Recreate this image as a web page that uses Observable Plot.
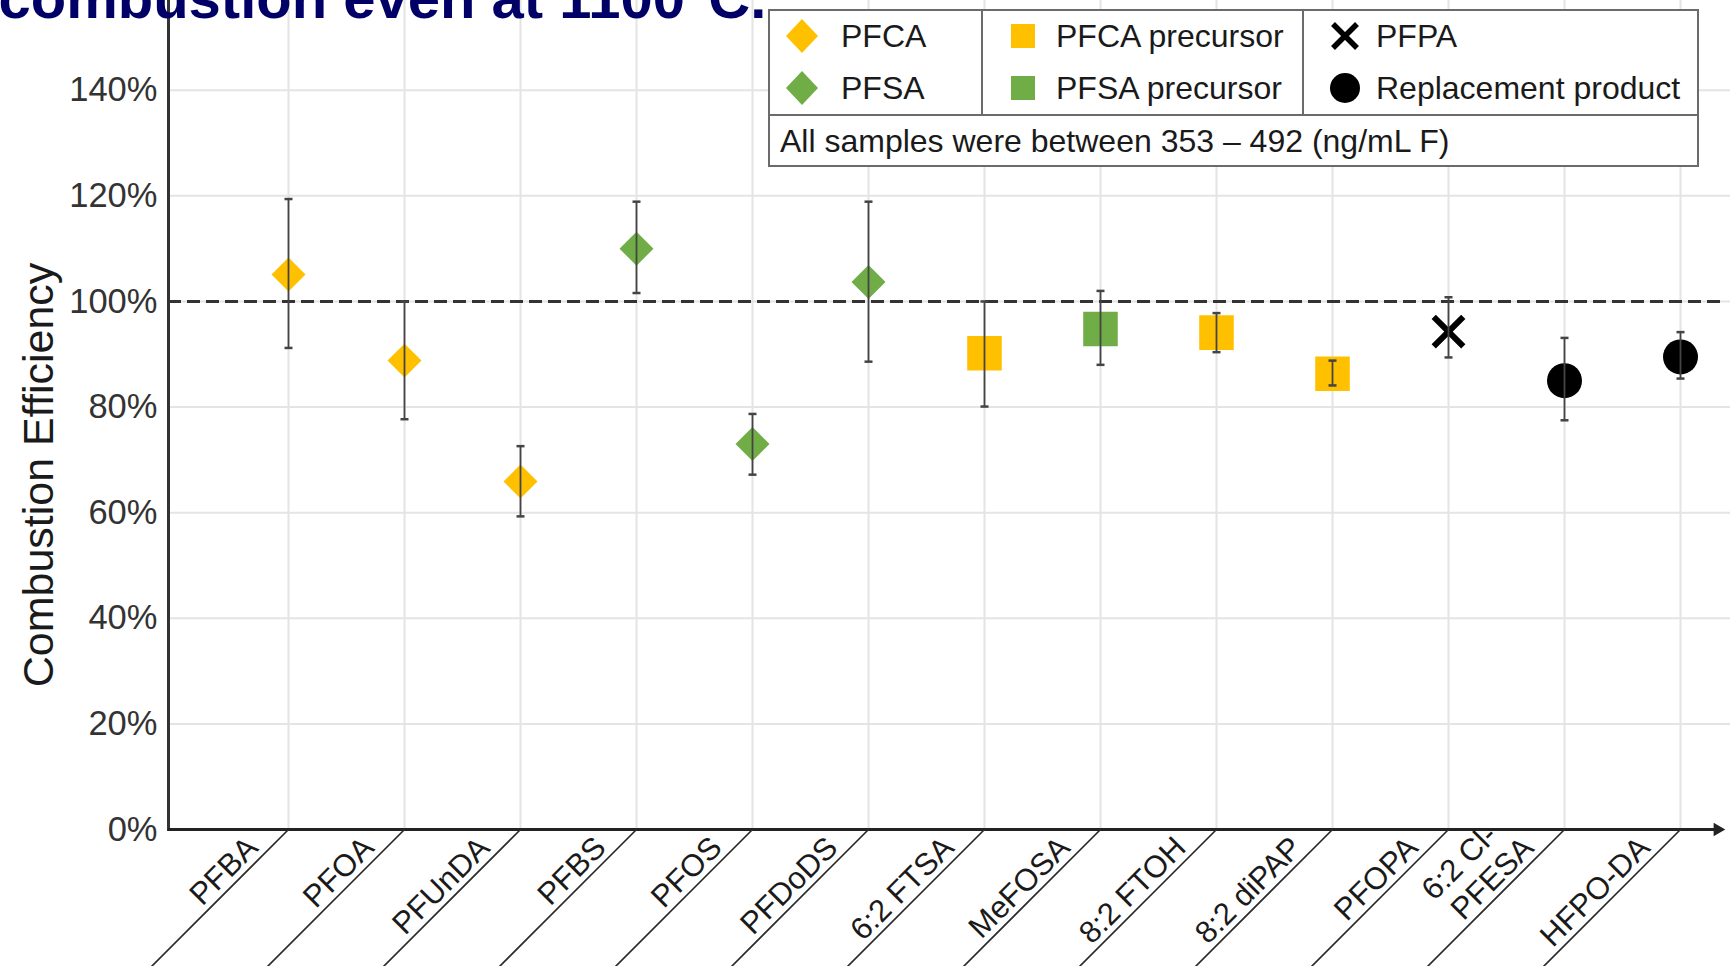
<!DOCTYPE html>
<html>
<head>
<meta charset="utf-8">
<script src="https://cdn.jsdelivr.net/npm/d3@7"></script>
<script src="https://cdn.jsdelivr.net/npm/@observablehq/plot@0.6"></script>
<style>
  body { margin: 0; background: #fff; }
  #wrap { position: relative; width: 1730px; height: 966px; overflow: hidden;
          font-family: "Liberation Sans", Arial, sans-serif; }
  #legend { position: absolute; left: 768px; top: 9px; width: 931px; height: 158px;
            box-sizing: border-box; border: 2px solid #6b6b6b; background: #fff; }
  .lg-item { position: absolute; height: 44px; line-height: 44px; font-size: 32px;
             color: #1a1a1a; white-space: nowrap; }
  .lg-sym { position: absolute; }
  .lg-vdiv { position: absolute; top: 0; width: 2px; height: 103px; background: #6b6b6b; }
  .lg-hdiv { position: absolute; left: 0; top: 103px; height: 2px; width: 100%; background: #6b6b6b; }
</style>
</head>
<body>
<div id="wrap"></div>
<script>
// ---- data ----
const categories = ["PFBA","PFOA","PFUnDA","PFBS","PFOS","PFDoDS","6:2 FTSA","MeFOSA","8:2 FTOH","8:2 diPAP","PFOPA","6:2 Cl-PFESA","HFPO-DA"];
const categoryLabels = ["PFBA","PFOA","PFUnDA","PFBS","PFOS","PFDoDS","6:2 FTSA","MeFOSA","8:2 FTOH","8:2 diPAP","PFOPA","6:2 Cl-\u00a0\u00a0\nPFESA","HFPO-DA"];
const groups = ["PFCA","PFCA","PFCA","PFSA","PFSA","PFSA","PFCA precursor","PFSA precursor","PFCA precursor","PFCA precursor","PFPA","Replacement product","Replacement product"];
const efficiency = [105.1, 88.8, 65.9, 110.0, 73.0, 103.7, 90.2, 94.8, 94.1, 86.3, 94.3, 85.0, 89.5];
const errLow  = [91.2, 77.7, 59.3, 101.6, 67.2, 88.6, 80.1, 88.0, 90.4, 84.1, 89.4, 77.5, 85.4];
const errHigh = [119.4, 100.0, 72.6, 118.9, 78.7, 118.9, 100.0, 102.0, 97.8, 88.8, 100.8, 93.1, 94.2];
const yTicks = [0, 0.2, 0.4, 0.6, 0.8, 1.0, 1.2, 1.4];
const groupNames  = ["PFCA","PFSA","PFCA precursor","PFSA precursor","PFPA","Replacement product"];
const groupColors = ["#FFC000","#70AD47","#FFC000","#70AD47","#000000","#000000"];
const legendNote = "All samples were between 353 – 492 (ng/mL F)";
const titleText = "combustion even at 1100°C.";
const yLabel = "Combustion Efficiency";

const rows = categories.map((c, i) => ({name: c, group: groups[i], value: efficiency[i] / 100, lo: errLow[i] / 100, hi: errHigh[i] / 100}));

const capSymbol = {draw(ctx, size) { const w = Math.sqrt(size / Math.PI); ctx.moveTo(-w, 0); ctx.lineTo(w, 0); }};
const lineShape = {draw(ctx, l) { ctx.moveTo(0, 0); ctx.lineTo(0, -l); }};

const chart = Plot.plot({
  width: 1730, height: 966,
  marginLeft: 168, marginRight: 0, marginTop: 0, marginBottom: 137,
  style: {fontFamily: "Liberation Sans, Arial, sans-serif", fontSize: "28px", background: "white", overflow: "visible"},
  x: {type: "point", domain: categories, range: [284.7, 1682.7], padding: 0, axis: null},
  y: {domain: [0, 1.57], axis: null},
  color: {domain: groupNames, range: groupColors},
  marks: [
    Plot.ruleY(yTicks.filter(v => v > 0), {stroke: "#e4e4e4", strokeWidth: 2}),
    Plot.ruleX(categories, {stroke: "#e4e4e4", strokeWidth: 2}),
    Plot.ruleY([1], {stroke: "#333", strokeWidth: 3, strokeDasharray: "13,6", insetRight: 7}),
    Plot.frame({anchor: "left", stroke: "#333", strokeWidth: 3}),
    Plot.ruleY([0], {stroke: "#222", strokeWidth: 3, insetRight: 7}),
    Plot.dot([0], {y: d => d, frameAnchor: "right", dx: -13, symbol: "triangle", rotate: 90, r: 5, fill: "#222"}),
    Plot.axisY(yTicks, {tickSize: 0, tickPadding: 11, tickFormat: d3.format(".0%"), fontSize: 34.5, fill: "#333", label: null}),
    Plot.text([yLabel], {frameAnchor: "left", dx: -116, dy: 60, rotate: -90, textAnchor: "middle", lineAnchor: "bottom", fontSize: 43, fill: "#1a1a1a"}),
    // markers
    Plot.dot(rows.filter(d => d.group === "PFCA" || d.group === "PFSA"), {x: "name", y: "value", symbol: "diamond2", r: 15.3, fill: "group"}),
    Plot.dot(rows.filter(d => d.group.endsWith("precursor")), {x: "name", y: "value", symbol: "square", r: 19.5, fill: "group"}),
    Plot.dot(rows.filter(d => d.group === "Replacement product"), {x: "name", y: "value", symbol: "circle", r: 17.5, fill: "group"}),
    Plot.dot(rows.filter(d => d.group === "PFPA"), {x: "name", y: "value", symbol: "times", r: 13.5, stroke: "group", strokeWidth: 6}),
    // error bars
    Plot.ruleX(rows, {x: "name", y1: "lo", y2: "hi", stroke: "#444", strokeWidth: 1.8}),
    Plot.dot(rows, {x: "name", y: "lo", symbol: capSymbol, r: 4, stroke: "#444", strokeWidth: 2.5}),
    Plot.dot(rows, {x: "name", y: "hi", symbol: capSymbol, r: 4, stroke: "#444", strokeWidth: 2.5}),
    // category separators and labels
    Plot.vector(categories, {x: d => d, y: () => 0, length: 210, rotate: 225, anchor: "start", shape: lineShape, stroke: "#2a2a2a", strokeWidth: 1.7}),
    Plot.text(categories, {x: d => d, y: () => 0, text: (d, i) => categoryLabels[i], rotate: -45, textAnchor: "end", lineAnchor: "bottom", dx: -29, dy: 20, fontSize: 31, lineHeight: 1.12, fill: "#1a1a1a"}),
    // cropped slide title
    Plot.text([titleText], {frameAnchor: "top-left", dx: -170, dy: 17, textAnchor: "start", lineAnchor: "bottom", fontSize: 58, fontWeight: "bold", fill: "#000066"})
  ]
});

const wrap = document.getElementById("wrap");
wrap.appendChild(chart);

// ---- legend (HTML overlay inside plot area) ----
const legend = document.createElement("div");
legend.id = "legend";
wrap.appendChild(legend);
const symSvg = (kind, color) => {
  const s = 40, c = 20;
  let inner = "";
  if (kind === "diamond") inner = `<path d="M${c},${c-17}L${c+16},${c}L${c},${c+17}L${c-16},${c}Z" fill="${color}"/>`;
  if (kind === "square") inner = `<rect x="${c-12}" y="${c-12}" width="24" height="24" fill="${color}"/>`;
  if (kind === "circle") inner = `<circle cx="${c}" cy="${c}" r="15" fill="${color}"/>`;
  if (kind === "times") inner = `<path d="M${c-12},${c-12}L${c+12},${c+12}M${c+12},${c-12}L${c-12},${c+12}" stroke="${color}" stroke-width="5.5"/>`;
  return `<svg width="${s}" height="${s}" viewBox="0 0 ${s} ${s}">${inner}</svg>`;
};
const kinds = ["diamond","diamond","square","square","times","circle"];
const colX = [34, 255, 577];
const textX = [73, 288, 608];
const rowY = [27, 79];
groupNames.forEach((g, i) => {
  const col = Math.floor(i / 2), row = i % 2;
  const sym = document.createElement("div");
  sym.className = "lg-sym";
  sym.style.left = (colX[col] - 20 - 2) + "px";
  sym.style.top = (rowY[row] - 20 - 2) + "px";
  sym.innerHTML = symSvg(kinds[i], groupColors[i]);
  legend.appendChild(sym);
  const t = document.createElement("div");
  t.className = "lg-item";
  t.style.left = (textX[col] - 2) + "px";
  t.style.top = (rowY[row] - 22 - 2) + "px";
  t.textContent = g;
  legend.appendChild(t);
});
[211, 532].forEach(x => { const v = document.createElement("div"); v.className = "lg-vdiv"; v.style.left = x + "px"; legend.appendChild(v); });
const h = document.createElement("div"); h.className = "lg-hdiv"; legend.appendChild(h);
const note = document.createElement("div");
note.className = "lg-item";
note.style.left = "10px"; note.style.top = (132 - 22 - 2) + "px";
note.textContent = legendNote;
legend.appendChild(note);
</script>
</body>
</html>
